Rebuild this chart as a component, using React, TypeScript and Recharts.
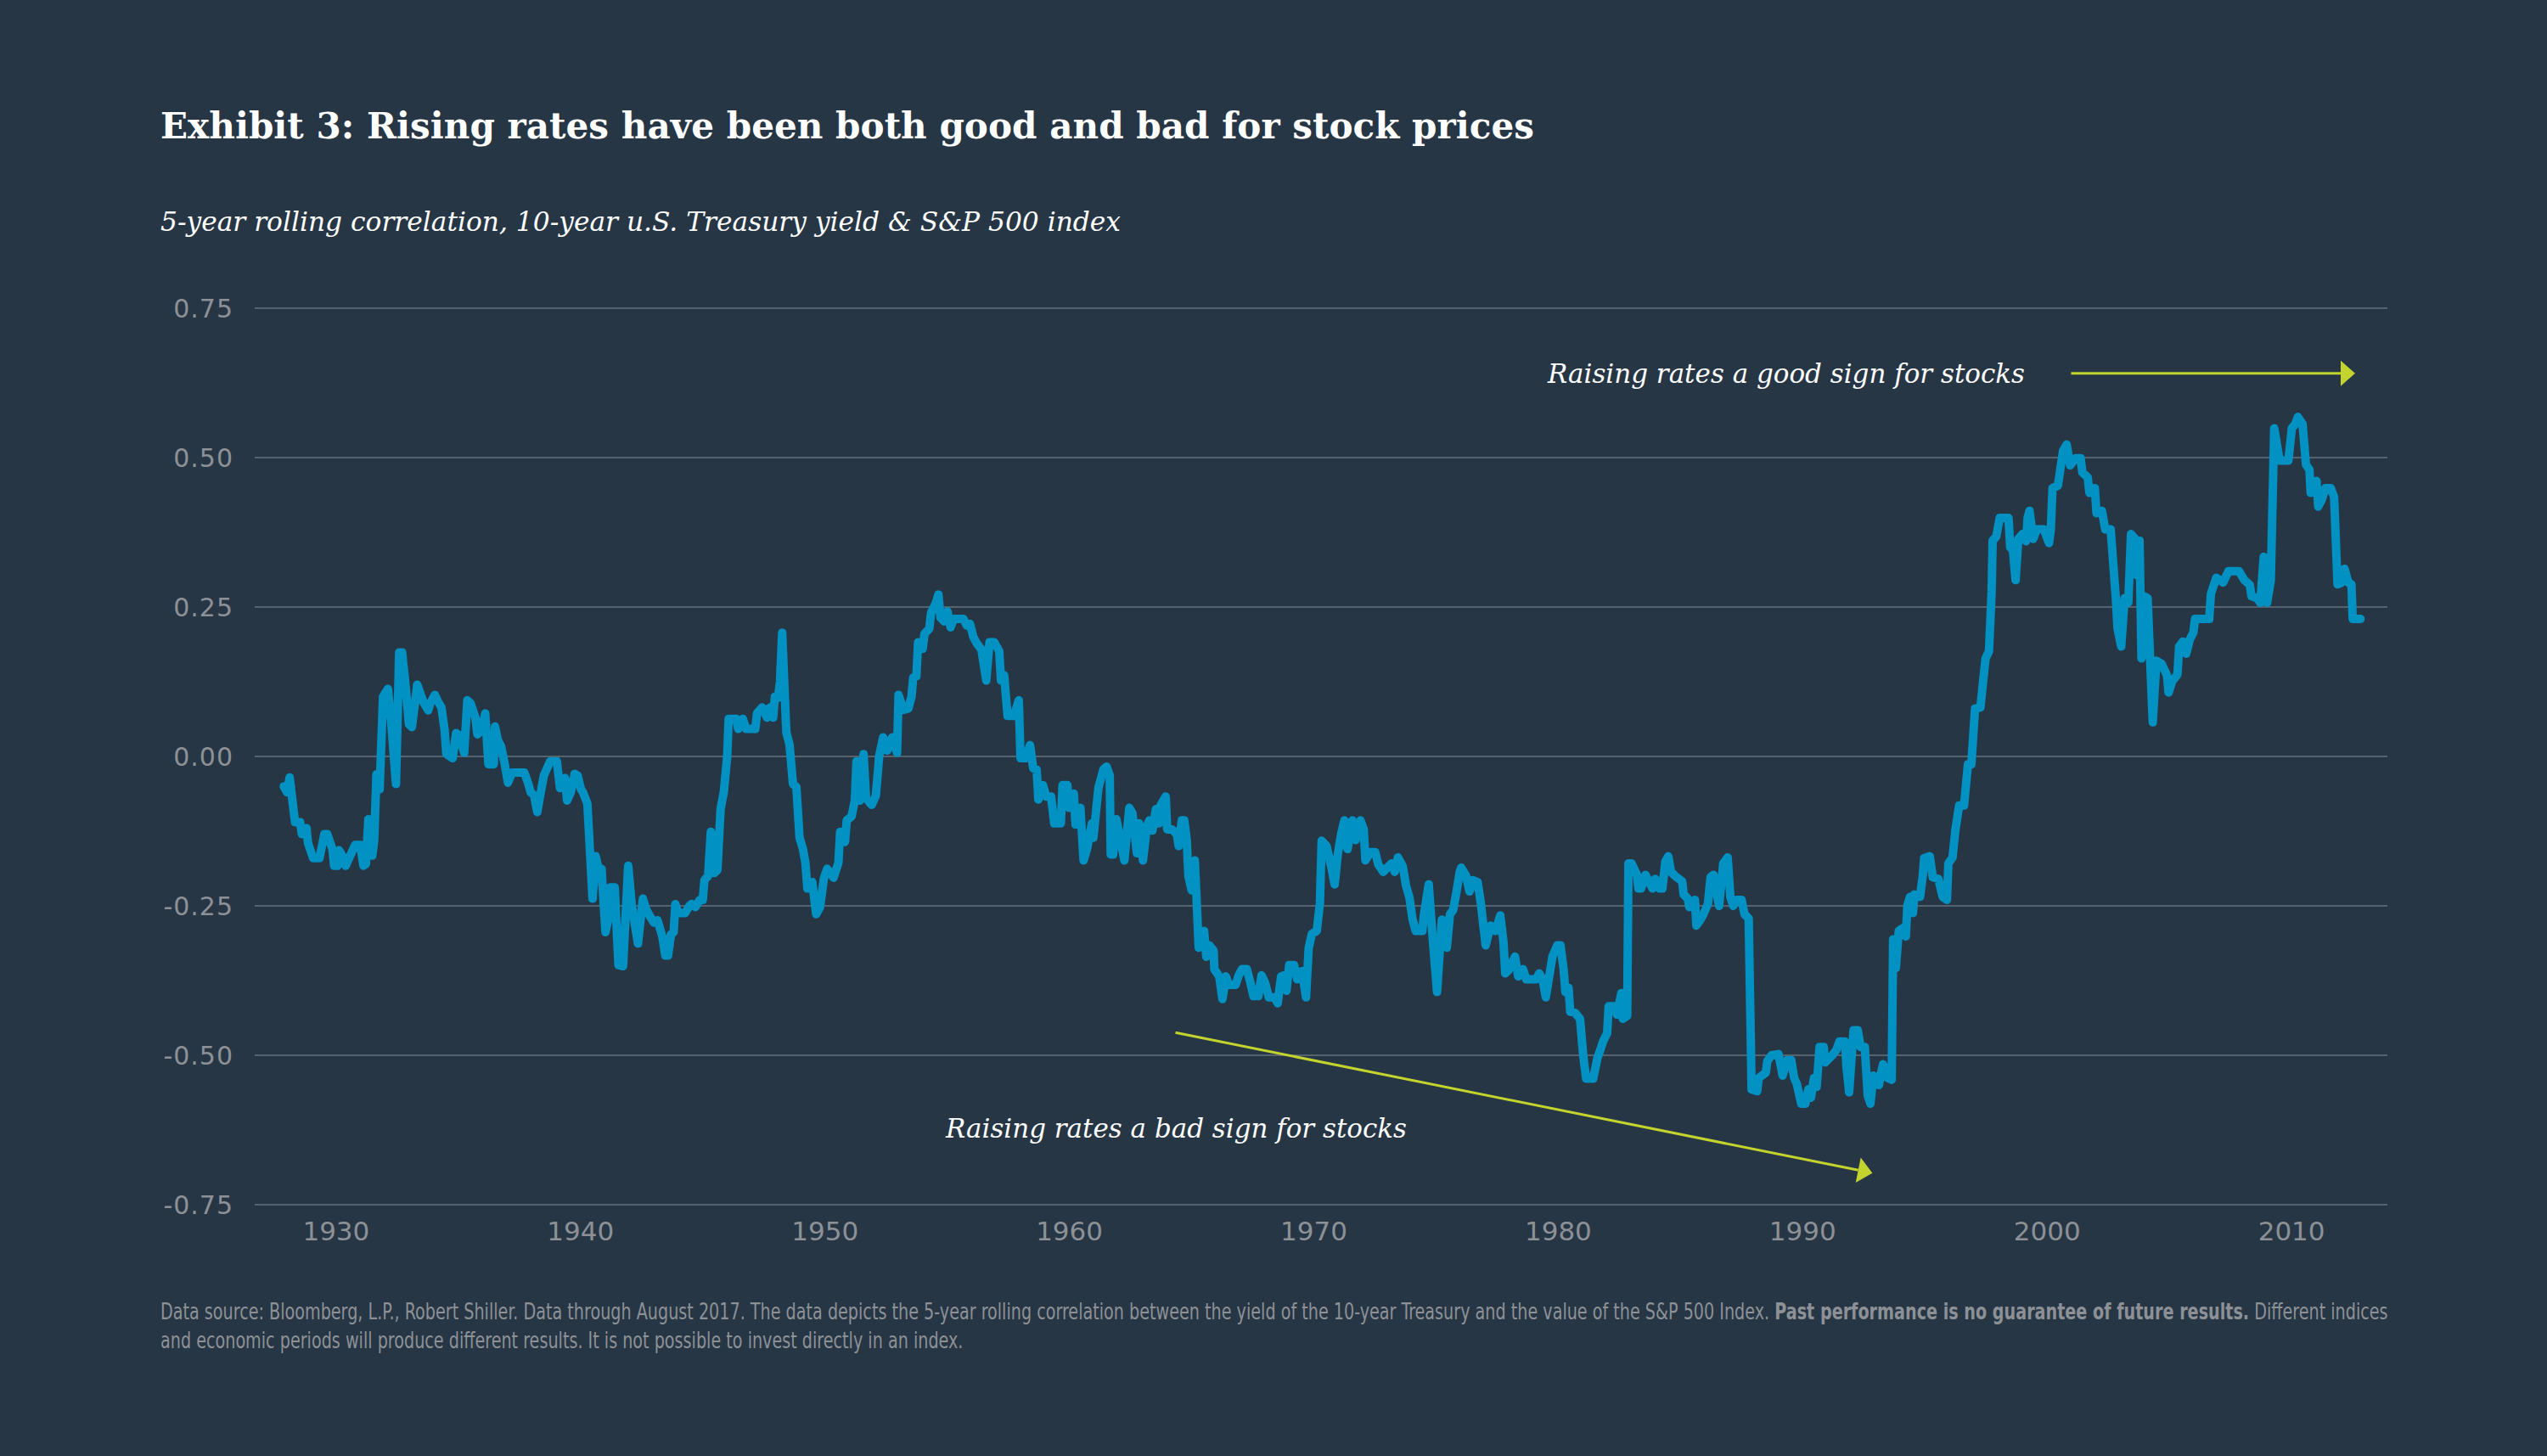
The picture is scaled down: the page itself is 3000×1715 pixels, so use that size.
import React from "react";
import { CartesianGrid, Line, LineChart, ReferenceLine, XAxis, YAxis } from "recharts";

// 5-year rolling correlation (year, correlation)
const years = [
  1927.86, 1927.99, 1928.1, 1928.26, 1928.32, 1928.53, 1928.6, 1928.79, 1928.85, 1929.06,
  1929.32, 1929.52, 1929.64, 1929.85, 1929.92, 1930.05, 1930.12, 1930.25, 1930.39, 1930.59,
  1930.78, 1930.99, 1931.12, 1931.22, 1931.32, 1931.4, 1931.48, 1931.56, 1931.65, 1931.78,
  1931.92, 1932.12, 1932.25, 1932.45, 1932.58, 1932.7, 1932.85, 1932.98, 1933.1, 1933.32,
  1933.45, 1933.57, 1933.77, 1933.85, 1934.04, 1934.18, 1934.31, 1934.44, 1934.51, 1934.77,
  1934.91, 1935.05, 1935.24, 1935.37, 1935.5, 1935.7, 1935.78, 1935.97, 1936.1, 1936.17,
  1936.23, 1936.45, 1936.5, 1936.62, 1936.75, 1936.9, 1937.03, 1937.2, 1937.7, 1937.85,
  1937.96, 1938.1, 1938.23, 1938.35, 1938.5, 1938.76, 1939.03, 1939.16, 1939.36, 1939.45,
  1939.6, 1939.76, 1939.88, 1940.02, 1940.1, 1940.28, 1940.49, 1940.62, 1940.75, 1940.86,
  1941.02, 1941.12, 1941.22, 1941.4, 1941.55, 1941.74, 1941.95, 1942.1, 1942.35, 1942.55,
  1942.68, 1942.82, 1943.0, 1943.15, 1943.35, 1943.47, 1943.58, 1943.7, 1943.81, 1943.88,
  1944.0, 1944.28, 1944.45, 1944.55, 1944.7, 1944.88, 1945.0, 1945.07, 1945.22, 1945.33,
  1945.47, 1945.6, 1945.73, 1945.86, 1946.0, 1946.06, 1946.37, 1946.45, 1946.64, 1946.77,
  1947.15, 1947.22, 1947.43, 1947.63, 1947.75, 1947.88, 1947.95, 1948.08, 1948.16, 1948.25,
  1948.42, 1948.55, 1948.69, 1948.83, 1948.96, 1949.1, 1949.2, 1949.28, 1949.48, 1949.64,
  1949.8, 1949.96, 1950.09, 1950.35, 1950.55, 1950.62, 1950.82, 1950.89, 1951.09, 1951.22,
  1951.29, 1951.42, 1951.58, 1951.68, 1951.91, 1952.08, 1952.22, 1952.38, 1952.55, 1952.75,
  1952.95, 1953.01, 1953.21, 1953.41, 1953.54, 1953.61, 1953.74, 1953.81, 1954.0, 1954.07,
  1954.27, 1954.34, 1954.54, 1954.64, 1954.73, 1954.87, 1955.01, 1955.14, 1955.27, 1955.67,
  1955.8, 1955.93, 1956.07, 1956.2, 1956.4, 1956.6, 1956.73, 1956.93, 1957.13, 1957.2,
  1957.33, 1957.47, 1957.73, 1957.93, 1958.0, 1958.2, 1958.39, 1958.52, 1958.66, 1958.73,
  1958.92, 1959.05, 1959.25, 1959.38, 1959.65, 1959.72, 1959.92, 1959.98, 1960.18, 1960.25,
  1960.45, 1960.58, 1960.72, 1960.92, 1960.98, 1961.19, 1961.39, 1961.52, 1961.65, 1961.69,
  1961.79, 1961.92, 1962.05, 1962.25, 1962.45, 1962.58, 1962.76, 1962.85, 1963.01, 1963.17,
  1963.27, 1963.4, 1963.54, 1963.66, 1963.74, 1963.94, 1964.0, 1964.2, 1964.4, 1964.47,
  1964.6, 1964.7, 1964.8, 1964.87, 1965.0, 1965.13, 1965.2, 1965.29, 1965.51, 1965.6,
  1965.73, 1965.9, 1965.93, 1966.13, 1966.26, 1966.4, 1966.53, 1966.8, 1966.93, 1967.06,
  1967.26, 1967.4, 1967.53, 1967.73, 1967.86, 1968.0, 1968.16, 1968.39, 1968.52, 1968.66,
  1968.79, 1968.88, 1968.99, 1969.19, 1969.32, 1969.52, 1969.68, 1969.79, 1969.92, 1970.12,
  1970.25, 1970.32, 1970.52, 1970.72, 1970.85, 1970.98, 1971.12, 1971.25, 1971.38, 1971.58,
  1971.71, 1971.91, 1972.04, 1972.11, 1972.31, 1972.51, 1972.64, 1972.84, 1973.18, 1973.31,
  1973.44, 1973.64, 1973.77, 1973.91, 1974.04, 1974.17, 1974.44, 1974.5, 1974.7, 1974.84,
  1975.04, 1975.24, 1975.44, 1975.57, 1975.7, 1975.83, 1975.97, 1976.03, 1976.23, 1976.37,
  1976.5, 1976.7, 1976.83, 1977.03, 1977.23, 1977.43, 1977.63, 1977.76, 1977.83, 1977.96,
  1978.23, 1978.36, 1978.56, 1978.69, 1979.09, 1979.22, 1979.36, 1979.49, 1979.76, 1979.96,
  1980.09, 1980.22, 1980.29, 1980.42, 1980.49, 1980.69, 1980.89, 1981.02, 1981.14, 1981.43,
  1981.6, 1981.72, 1981.83, 1982.0, 1982.06, 1982.29, 1982.4, 1982.58, 1982.64, 1982.82,
  1982.87, 1983.0, 1983.22, 1983.28, 1983.39, 1983.57, 1983.68, 1983.86, 1983.97, 1984.15,
  1984.26, 1984.38, 1984.5, 1984.61, 1984.78, 1985.07, 1985.13, 1985.3, 1985.36, 1985.59,
  1985.65, 1985.82, 1985.94, 1986.12, 1986.23, 1986.35, 1986.46, 1986.58, 1986.69, 1986.75,
  1986.93, 1987.04, 1987.16, 1987.27, 1987.5, 1987.62, 1987.79, 1987.91, 1988.14, 1988.2,
  1988.49, 1988.55, 1988.72, 1989.01, 1989.18, 1989.36, 1989.53, 1989.65, 1989.76, 1989.94,
  1990.11, 1990.23, 1990.34, 1990.46, 1990.57, 1990.69, 1990.86, 1990.92, 1991.21, 1991.38,
  1991.5, 1991.73, 1991.79, 1991.9, 1992.08, 1992.25, 1992.37, 1992.54, 1992.66, 1992.77,
  1992.89, 1993.0, 1993.12, 1993.18, 1993.29, 1993.47, 1993.64, 1993.7, 1993.81, 1993.93,
  1994.1, 1994.22, 1994.28, 1994.39, 1994.51, 1994.57, 1994.8, 1994.91, 1994.97, 1995.2,
  1995.32, 1995.55, 1995.73, 1995.9, 1995.96, 1996.13, 1996.25, 1996.4, 1996.6, 1996.76,
  1996.9, 1997.05, 1997.27, 1997.48, 1997.62, 1997.73, 1997.77, 1997.92, 1998.06, 1998.42,
  1998.49, 1998.6, 1998.71, 1998.82, 1998.99, 1999.14, 1999.2, 1999.28, 1999.43, 1999.57,
  1999.86, 2000.08, 2000.15, 2000.22, 2000.44, 2000.65, 2000.8, 2000.94, 2001.16, 2001.37,
  2001.44, 2001.66, 2001.73, 2001.95, 2002.02, 2002.24, 2002.38, 2002.6, 2002.67, 2002.81,
  2002.88, 2003.03, 2003.17, 2003.32, 2003.43, 2003.6, 2003.68, 2003.78, 2003.86, 2003.97,
  2004.11, 2004.32, 2004.47, 2004.68, 2004.9, 2004.97, 2005.12, 2005.33, 2005.4, 2005.55,
  2005.69, 2005.84, 2005.98, 2006.05, 2006.63, 2006.7, 2006.92, 2007.2, 2007.42, 2007.85,
  2008.07, 2008.29, 2008.36, 2008.58, 2008.72, 2008.86, 2009.0, 2009.15, 2009.29, 2009.51,
  2009.87, 2010.01, 2010.15, 2010.26, 2010.45, 2010.59, 2010.73, 2010.78, 2010.88, 2011.02,
  2011.09, 2011.24, 2011.38, 2011.6, 2011.74, 2011.88, 2012.03, 2012.17, 2012.32, 2012.45,
  2012.5, 2012.82,
];

const correlation = [
  -0.05, -0.06, -0.035, -0.09, -0.11, -0.11, -0.13, -0.12, -0.145, -0.17,
  -0.17, -0.13, -0.13, -0.155, -0.183, -0.183, -0.157, -0.166, -0.183, -0.165,
  -0.148, -0.148, -0.183, -0.18, -0.105, -0.131, -0.166, -0.14, -0.03, -0.055,
  0.1, 0.113, 0.06, -0.046, 0.174, 0.174, 0.115, 0.054, 0.049, 0.12,
  0.105, 0.091, 0.077, 0.089, 0.103, 0.091, 0.082, 0.044, 0.004, -0.003,
  0.039, 0.035, 0.006, 0.094, 0.089, 0.065, 0.037, 0.044, 0.072, 0.027,
  -0.013, -0.013, 0.05, 0.027, 0.017, -0.013, -0.044, -0.027, -0.027, -0.044,
  -0.06, -0.065, -0.093, -0.065, -0.032, -0.008, -0.008, -0.053, -0.036, -0.074,
  -0.06, -0.029, -0.032, -0.055, -0.06, -0.079, -0.238, -0.167, -0.19, -0.188,
  -0.294, -0.275, -0.219, -0.219, -0.349, -0.351, -0.183, -0.25, -0.313, -0.238,
  -0.255, -0.266, -0.278, -0.274, -0.302, -0.333, -0.333, -0.298, -0.294, -0.247,
  -0.262, -0.262, -0.25, -0.247, -0.252, -0.24, -0.24, -0.207, -0.2, -0.126,
  -0.195, -0.19, -0.088, -0.06, 0.0, 0.063, 0.063, 0.046, 0.063, 0.046,
  0.046, 0.072, 0.082, 0.065, 0.082, 0.065, 0.1, 0.098, 0.125, 0.207,
  0.04, 0.02, -0.046, -0.051, -0.136, -0.155, -0.178, -0.221, -0.21, -0.264,
  -0.252, -0.203, -0.188, -0.203, -0.178, -0.126, -0.143, -0.107, -0.1, -0.074,
  -0.008, -0.074, 0.004, -0.07, -0.081, -0.066, 0.001, 0.032, 0.01, 0.032,
  0.006, 0.103, 0.078, 0.08, 0.1, 0.132, 0.134, 0.191, 0.18, 0.205,
  0.214, 0.24, 0.257, 0.271, 0.232, 0.226, 0.243, 0.216, 0.23, 0.23,
  0.219, 0.222, 0.2, 0.19, 0.179, 0.127, 0.191, 0.191, 0.176, 0.127,
  0.136, 0.068, 0.068, 0.094, -0.003, -0.003, 0.019, -0.02, -0.022, -0.072,
  -0.048, -0.067, -0.067, -0.112, -0.112, -0.048, -0.048, -0.086, -0.062, -0.114,
  -0.086, -0.174, -0.155, -0.112, -0.136, -0.052, -0.022, -0.017, -0.032, -0.164,
  -0.164, -0.105, -0.131, -0.174, -0.086, -0.095, -0.162, -0.112, -0.174, -0.117,
  -0.107, -0.124, -0.088, -0.112, -0.081, -0.067, -0.122, -0.122, -0.131, -0.15,
  -0.107, -0.107, -0.14, -0.2, -0.224, -0.174, -0.236, -0.32, -0.292, -0.335,
  -0.316, -0.325, -0.356, -0.368, -0.406, -0.368, -0.382, -0.382, -0.366, -0.356,
  -0.356, -0.378, -0.401, -0.401, -0.366, -0.378, -0.403, -0.403, -0.413, -0.368,
  -0.366, -0.392, -0.349, -0.349, -0.373, -0.359, -0.403, -0.32, -0.297, -0.292,
  -0.245, -0.141, -0.15, -0.186, -0.214, -0.164, -0.129, -0.107, -0.155, -0.107,
  -0.14, -0.107, -0.122, -0.174, -0.16, -0.16, -0.181, -0.193, -0.179, -0.193,
  -0.169, -0.184, -0.216, -0.236, -0.273, -0.292, -0.292, -0.266, -0.214, -0.292,
  -0.394, -0.273, -0.32, -0.264, -0.257, -0.228, -0.193, -0.186, -0.2, -0.226,
  -0.207, -0.21, -0.245, -0.316, -0.283, -0.292, -0.266, -0.311, -0.363, -0.358,
  -0.335, -0.368, -0.356, -0.373, -0.373, -0.363, -0.373, -0.403, -0.335, -0.316,
  -0.316, -0.356, -0.394, -0.387, -0.427, -0.429, -0.439, -0.5, -0.539, -0.539,
  -0.505, -0.491, -0.477, -0.463, -0.418, -0.418, -0.432, -0.396, -0.439, -0.434,
  -0.179, -0.179, -0.198, -0.221, -0.221, -0.198, -0.207, -0.221, -0.205, -0.221,
  -0.221, -0.176, -0.167, -0.193, -0.2, -0.209, -0.231, -0.238, -0.252, -0.24,
  -0.283, -0.273, -0.264, -0.247, -0.202, -0.198, -0.226, -0.25, -0.204, -0.179,
  -0.169, -0.235, -0.25, -0.24, -0.24, -0.264, -0.271, -0.557, -0.56, -0.538,
  -0.529, -0.51, -0.5, -0.498, -0.534, -0.508, -0.508, -0.538, -0.548, -0.581,
  -0.581, -0.557, -0.571, -0.538, -0.553, -0.486, -0.486, -0.512, -0.5, -0.491,
  -0.477, -0.477, -0.519, -0.562, -0.458, -0.458, -0.486, -0.486, -0.567, -0.581,
  -0.534, -0.538, -0.55, -0.534, -0.515, -0.538, -0.541, -0.306, -0.354, -0.292,
  -0.287, -0.301, -0.25, -0.235, -0.262, -0.231, -0.235, -0.2, -0.17, -0.167,
  -0.202, -0.205, -0.235, -0.24, -0.179, -0.169, -0.122, -0.082, -0.082, -0.013,
  -0.013, 0.08, 0.082, 0.164, 0.176, 0.276, 0.361, 0.368, 0.399, 0.399,
  0.35, 0.345, 0.295, 0.364, 0.372, 0.36, 0.399, 0.411, 0.364, 0.38,
  0.38, 0.357, 0.38, 0.449, 0.453, 0.511, 0.522, 0.487, 0.499, 0.499,
  0.475, 0.467, 0.441, 0.449, 0.407, 0.411, 0.38, 0.38, 0.341, 0.265,
  0.214, 0.184, 0.265, 0.257, 0.372, 0.364, 0.303, 0.361, 0.164, 0.268,
  0.265, 0.057, 0.16, 0.155, 0.136, 0.107, 0.126, 0.137, 0.184, 0.192,
  0.172, 0.196, 0.207, 0.23, 0.23, 0.272, 0.299, 0.291, 0.31, 0.31,
  0.295, 0.287, 0.268, 0.265, 0.257, 0.334, 0.257, 0.295, 0.549, 0.495,
  0.495, 0.549, 0.556, 0.568, 0.556, 0.488, 0.48, 0.441, 0.45, 0.461,
  0.418, 0.43, 0.449, 0.449, 0.434, 0.288, 0.29, 0.314, 0.291, 0.288,
  0.23, 0.23,
];

const xTicks = [1930, 1940, 1950, 1960, 1970, 1980, 1990, 2000, 2010];
const yTicks = [-0.75, -0.5, -0.25, 0, 0.25, 0.5, 0.75];

// annotation arrows, in data coordinates
const goodArrow = [
  { x: 2000.98, y: 0.641 },
  { x: 2012.6, y: 0.641 },
];
const badArrow = [
  { x: 1964.34, y: -0.462 },
  { x: 1992.85, y: -0.697 },
];

const data = years.map((year, i) => ({ year, value: correlation[i] }));

const BG = "#263645";
const LINE = "#0191c2";
const ACCENT = "#c3d42e";
const GREY = "#8d9196";
const NOTE_FONT = "'DejaVu Sans Condensed', 'DejaVu Sans', sans-serif";

const Arrow = (props: any) => {
  const { x1, y1, x2, y2 } = props;
  const ang = Math.atan2(y2 - y1, x2 - x1);
  const len = 17;
  const half = 15;
  const bx = x2 - len * Math.cos(ang);
  const by = y2 - len * Math.sin(ang);
  const px = -Math.sin(ang) * half;
  const py = Math.cos(ang) * half;
  return (
    <g>
      <line x1={x1} y1={y1} x2={bx} y2={by} stroke={ACCENT} strokeWidth={3} />
      <polygon
        points={`${x2},${y2} ${bx + px},${by + py} ${bx - px},${by - py}`}
        fill={ACCENT}
      />
    </g>
  );
};

const fmt = (v: number) => v.toFixed(2);

export default function App() {
  return (
    <div
      style={{
        position: "absolute",
        left: 0,
        top: 0,
        width: 3000,
        height: 1715,
        background: BG,
        overflow: "hidden",
      }}
    >
      <div style={{ position: "absolute", left: 0, top: 0 }}>
        <LineChart
          width={3000}
          height={1715}
          data={data}
          margin={{ top: 363, right: 188, bottom: 236, left: 200 }}
        >
          <CartesianGrid vertical={false} stroke="#56636f" strokeWidth={2} />
          <XAxis
            type="number"
            dataKey="year"
            domain={[1926.67, 2013.92]}
            ticks={xTicks}
            allowDataOverflow
            axisLine={false}
            tickLine={false}
            height={60}
            tickMargin={14}
            tick={{ fill: GREY, fontSize: 31, fontFamily: "DejaVu Sans" }}
          />
          <YAxis
            type="number"
            domain={[-0.75, 0.75]}
            ticks={yTicks}
            allowDataOverflow
            axisLine={false}
            tickLine={false}
            width={100}
            tickMargin={19}
            tickFormatter={fmt}
            tick={{ fill: GREY, fontSize: 30, fontFamily: "DejaVu Sans", letterSpacing: 1 }}
          />
          <ReferenceLine segment={goodArrow} shape={Arrow} ifOverflow="visible" />
          <ReferenceLine segment={badArrow} shape={Arrow} ifOverflow="visible" />
          <Line
            type="linear"
            dataKey="value"
            stroke={LINE}
            strokeWidth={10}
            strokeLinejoin="round"
            strokeLinecap="round"
            dot={false}
            activeDot={false}
            isAnimationActive={false}
          />
        </LineChart>
      </div>
      <svg
        width={3000}
        height={1715}
        style={{ position: "absolute", left: 0, top: 0, pointerEvents: "none" }}
      >
        <text
          x={189}
          y={163}
          fill="#ffffff"
          fontFamily="DejaVu Serif"
          fontWeight="bold"
          fontSize={42}
          textLength={1618}
          lengthAdjust="spacingAndGlyphs"
        >
          Exhibit 3: Rising rates have been both good and bad for stock prices
        </text>
        <text
          x={189}
          y={272}
          fill="#ffffff"
          fontFamily="DejaVu Serif"
          fontStyle="italic"
          fontSize={31}
          textLength={1131}
          lengthAdjust="spacingAndGlyphs"
        >
          5-year rolling correlation, 10-year u.S. Treasury yield &amp; S&amp;P 500 index
        </text>
        <text
          x={1823}
          y={451}
          fill="#ffffff"
          fontFamily="DejaVu Serif"
          fontStyle="italic"
          fontSize={31}
          textLength={562}
          lengthAdjust="spacingAndGlyphs"
        >
          Raising rates a good sign for stocks
        </text>
        <text
          x={1114}
          y={1340}
          fill="#ffffff"
          fontFamily="DejaVu Serif"
          fontStyle="italic"
          fontSize={31}
          textLength={543}
          lengthAdjust="spacingAndGlyphs"
        >
          Raising rates a bad sign for stocks
        </text>
        <g transform="translate(189, 0) scale(0.82, 1)">
          <text x={0} y={1554} fill={GREY} fontFamily={NOTE_FONT} fontSize={26}>
            Data source: Bloomberg, L.P., Robert Shiller. Data through August 2017. The data depicts the
            5-year rolling correlation between the yield of the 10-year Treasury and the value of the
            S&amp;P 500 Index.{" "}
            <tspan fontWeight="bold">Past performance is no guarantee of future results.</tspan>{" "}
            Different indices
          </text>
          <text x={0} y={1588} fill={GREY} fontFamily={NOTE_FONT} fontSize={26}>
            and economic periods will produce different results. It is not possible to invest directly
            in an index.
          </text>
        </g>
      </svg>
    </div>
  );
}
